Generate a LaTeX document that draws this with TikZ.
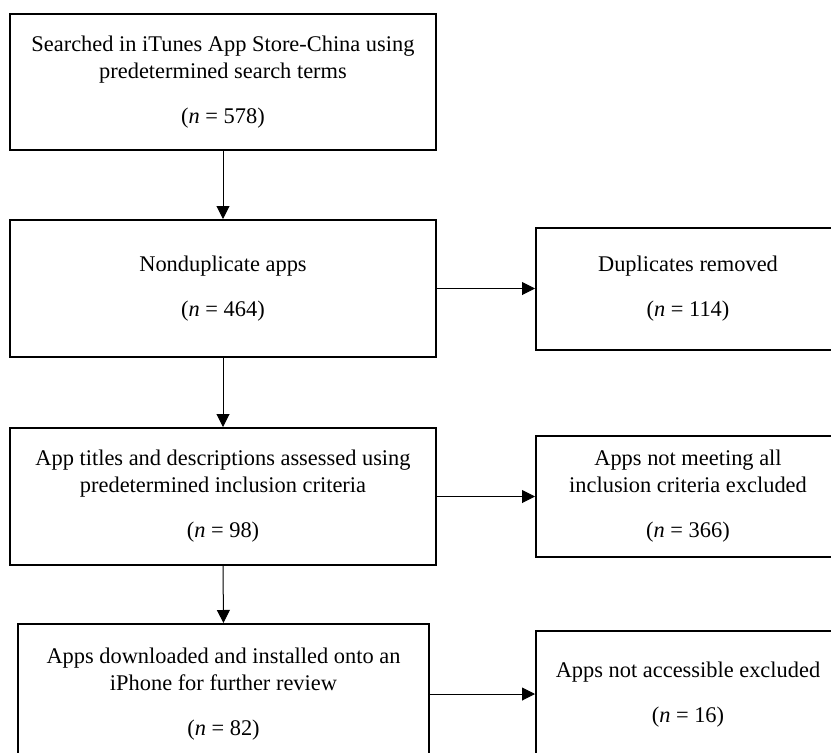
\documentclass[tikz,border=0pt]{standalone}
\usepackage{fontspec}
\setmainfont{Liberation Serif}
\usetikzlibrary{arrows.meta}
\begin{document}
\begin{tikzpicture}[x=1pt,y=-1pt,
  box/.style={draw=black, line width=2pt, inner sep=0pt, align=center, font=\fontsize{22.4}{27}\selectfont},
  arr/.style={draw=black, line width=1pt, -{Triangle[length=13pt,width=13pt]}}]
\useasboundingbox (0,0) rectangle (831,753);
\node[box, minimum width=426pt, minimum height=136pt] (b1) at (223,82) {Searched in iTunes App Store-China using\\predetermined search terms\\[18pt](\textit{n} = 578)};
\node[box, minimum width=426pt, minimum height=137pt] (b2) at (223,288.5) {Nonduplicate apps\\[18pt](\textit{n} = 464)};
\node[box, minimum width=426pt, minimum height=137pt] (b3) at (223,496.5) {App titles and descriptions assessed using\\predetermined inclusion criteria\\[18pt](\textit{n} = 98)};
\node[box, minimum width=411pt, minimum height=140pt] (b4) at (223.5,694) {Apps downloaded and installed onto an\\iPhone for further review\\[18pt](\textit{n} = 82)};
\node[box, minimum width=304pt, minimum height=122pt] (r1) at (688,289) {Duplicates removed\\[18pt](\textit{n} = 114)};
\node[box, minimum width=304pt, minimum height=121pt] (r2) at (688,496.5) {Apps not meeting all\\inclusion criteria excluded\\[18pt](\textit{n} = 366)};
\node[box, minimum width=304pt, minimum height=128pt] (r3) at (688,695) {Apps not accessible excluded\\[18pt](\textit{n} = 16)};
\draw[arr] (b1.south) -- (b2.north);
\draw[arr] (b2.south) -- (b3.north);
\draw[arr] (b3.south) -- (b4.north);
\draw[arr] (b2.east) -- (b2.east -| r1.west);
\draw[arr] (b3.east) -- (b3.east -| r2.west);
\draw[arr] (b4.east) -- (b4.east -| r3.west);
\end{tikzpicture}
\end{document}
